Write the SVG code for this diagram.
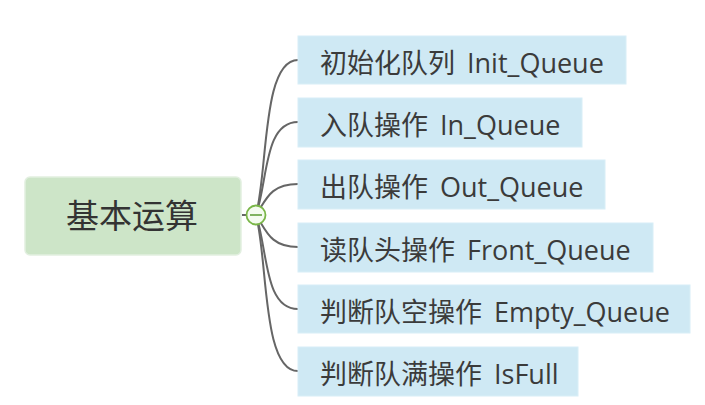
<svg xmlns="http://www.w3.org/2000/svg" width="705" height="405" viewBox="0 0 705 405">
<style>
.child rect{fill:#cfe9f4;stroke:#d8eef7;stroke-width:1}
.child text{font-family:"Open Sans","Noto Sans CJK SC",sans-serif;font-size:27px;fill:#3b3b3b;word-spacing:5px}
.conn path{fill:none;stroke:#666;stroke-width:2}
</style>
<rect width="705" height="405" fill="#fff"/>
<g class="conn" id="connectors">
<path d="M242 215 H248"/>
<path d="M256 215 C268 170 262 60 298 60"/>
<path d="M256 215 C268 180 264 122 298 122"/>
<path d="M256 215 C266 200 270 184 298 184"/>
<path d="M256 215 C266 230 270 247 298 247"/>
<path d="M256 215 C268 250 264 309 298 309"/>
<path d="M256 215 C268 260 262 371 298 371"/>
</g>
<g id="root">
<rect x="25" y="177" width="216" height="78" rx="5" fill="#cde5c8" stroke="#e2efe0" stroke-width="1.5"/>
<text x="132" y="228" text-anchor="middle" font-family="'Noto Sans CJK SC',sans-serif" font-size="33" fill="#333">基本运算</text>
</g>
<g id="collapse">
<circle cx="256" cy="215" r="9.5" fill="#f4fbef" stroke="#7ab648" stroke-width="1.8"/>
<line x1="250" y1="215" x2="262" y2="215" stroke="#5a9a30" stroke-width="1.5"/>
</g>
<g class="child" id="n1"><rect x="298" y="36" width="328" height="48"/><text x="320" y="73">初始化队列 Init_Queue</text></g>
<g class="child" id="n2"><rect x="298" y="98" width="284" height="49"/><text x="320" y="135">入队操作 In_Queue</text></g>
<g class="child" id="n3"><rect x="298" y="160" width="307" height="49"/><text x="320" y="197">出队操作 Out_Queue</text></g>
<g class="child" id="n4"><rect x="298" y="223" width="355" height="49"/><text x="320" y="260">读队头操作 Front_Queue</text></g>
<g class="child" id="n5"><rect x="298" y="285" width="392" height="48"/><text x="320" y="322">判断队空操作 Empty_Queue</text></g>
<g class="child" id="n6"><rect x="298" y="347" width="280" height="49"/><text x="320" y="384">判断队满操作 IsFull</text></g>
</svg>
